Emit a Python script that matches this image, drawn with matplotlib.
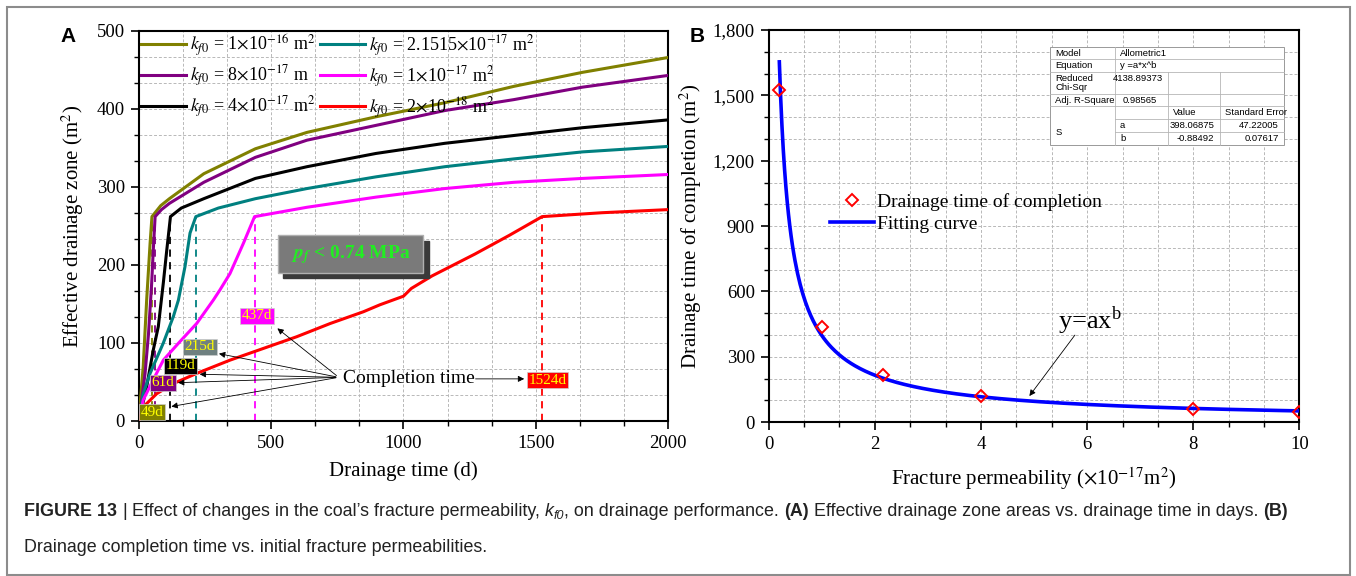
import matplotlib
matplotlib.use("Agg")
import matplotlib.pyplot as plt
import numpy as np
from matplotlib.patches import Rectangle
from matplotlib.ticker import MultipleLocator, FuncFormatter

plt.rcParams['font.family'] = ['Liberation Serif', 'DejaVu Serif']
plt.rcParams['mathtext.fontset'] = 'stix'

# ---- panel A: effective drainage zone vs drainage time ----
olive_d = [0, 3, 16, 29, 42, 49, 82, 115, 245, 440, 635, 896, 1156, 1417, 1677, 2000]
olive_v = [0, 17, 70, 155, 228, 262, 276, 285, 317, 349, 370, 390, 408, 429, 447, 466]

purple_d = [0, 3, 23, 36, 48, 54, 61, 85, 115, 245, 440, 635, 896, 1156, 1417, 1677, 2000]
purple_v = [0, 8, 61, 112, 177, 219, 262, 271, 279, 306, 338, 360, 379, 398, 412, 428, 443]

black_d = [0, 3, 29, 54, 73, 92, 105, 119, 160, 245, 440, 635, 896, 1156, 1417, 1677, 2000]
black_v = [0, 5, 44, 91, 121, 177, 219, 262, 273, 285, 311, 326, 343, 356, 366, 376, 386]

teal_d = [0, 16, 42, 92, 130, 149, 174, 193, 215, 300, 440, 635, 896, 1156, 1417, 1677, 2000]
teal_v = [0, 35, 61, 100, 134, 155, 198, 241, 262, 273, 285, 298, 313, 326, 336, 345, 352]

magenta_d = [0, 16, 54, 92, 150, 218, 281, 306, 344, 395, 437, 635, 896, 1156, 1417, 1677, 2000]
magenta_v = [0, 27, 53, 78, 100, 125, 155, 168, 189, 228, 262, 274, 287, 298, 306, 311, 316]

red_d = [0, 16, 67, 130, 218, 344, 470, 596, 723, 848, 911, 1000, 1030, 1108, 1270, 1400, 1524, 1750, 2000]
red_v = [0, 18, 35, 48, 61, 78, 93, 108, 125, 140, 149, 160, 170, 186, 214, 238, 262, 267, 271]

series_labels = [r"$k_{f0}$ = 1$\times$10$^{-16}$ m$^{2}$",
                 r"$k_{f0}$ = 8$\times$10$^{-17}$ m",
                 r"$k_{f0}$ = 4$\times$10$^{-17}$ m$^{2}$",
                 r"$k_{f0}$ = 2.1515$\times$10$^{-17}$ m$^{2}$",
                 r"$k_{f0}$ = 1$\times$10$^{-17}$ m$^{2}$",
                 r"$k_{f0}$ = 2$\times$10$^{-18}$ m$^{2}$"]
series_colors = ["#808000", "#800080", "#000000", "#008080", "#ff00ff", "#ff0000"]
completion_days = [49, 61, 119, 215, 437, 1524]
day_labels = ["49d", "61d", "119d", "215d", "437d", "1524d"]
label_pos = [(49, 11), (90, 49), (158, 71), (230, 95), (446, 135), (1545, 52)]
label_bg = ["#808000", "#800080", "#000000", "#6f8080", "#ff00ff", "#ff0000"]
arrow_tips = [(112, 18), (137, 49), (219, 60), (292, 87), (515, 121)]

# ---- panel B: completion time vs permeability ----
perm = [0.2, 1, 2.1515, 4, 8, 10]
comp_time = [1524, 437, 215, 119, 61, 49]
fit_a = 398.06875
fit_b = -0.88492

fig = plt.figure(figsize=(13.56, 5.76), dpi=100)
axA = fig.add_axes([0.1025, 0.2691, 0.3901, 0.6771])
axB = fig.add_axes([0.5669, 0.2670, 0.3914, 0.6809])

grid_kw = dict(color="#b8b8b8", linestyle=(0, (3, 2)), linewidth=0.7)

curves = [(olive_d, olive_v), (purple_d, purple_v), (black_d, black_v),
          (teal_d, teal_v), (magenta_d, magenta_v), (red_d, red_v)]
for (d, v), c, lab in zip(curves, series_colors, series_labels):
    axA.plot(d, v, color=c, lw=2.2, label=lab, zorder=3)
for (d, v), c, day in zip(curves, series_colors, completion_days):
    axA.plot([day, day], [0, np.interp(day, d, v)], color=c, lw=1.3, ls=(0, (4, 3)), zorder=2)

axA.set_xlim(0, 2000)
axA.set_ylim(0, 500)
axA.xaxis.set_major_locator(MultipleLocator(500))
axA.xaxis.set_minor_locator(MultipleLocator(500 / 3))
axA.yaxis.set_major_locator(MultipleLocator(100))
axA.yaxis.set_minor_locator(MultipleLocator(100 / 3))
axA.grid(which="both", **grid_kw)
axA.set_axisbelow(True)
axA.set_xlabel("Drainage time (d)", fontsize=15, labelpad=7)
axA.set_ylabel("Effective drainage zone (m$^2$)", fontsize=15, labelpad=8)

axA.legend(loc="upper left", ncol=2, frameon=False, fontsize=13, handlelength=2.5,
           handletextpad=0.2, columnspacing=0.3, labelspacing=0.3,
           borderaxespad=0.0, borderpad=0.1)

# pressure box with shadow
axA.add_patch(Rectangle((545, 183), 550, 48, color="#3a3a3a", zorder=4))
axA.add_patch(Rectangle((524, 190), 550, 48, facecolor="#7a7a7a", edgecolor="#b0b0b0", lw=1, zorder=5))
axA.text(799, 214, r"$\mathbfit{p}_{\mathbfit{f}}$ < 0.74 MPa", color="#22ee22", fontsize=14,
         fontweight="bold", ha="center", va="center", zorder=6)

for txt, (x, y), bg, in zip(day_labels, label_pos, label_bg):
    axA.text(x, y, txt, fontsize=11, color="#ffff00", ha="center", va="center", zorder=7,
             bbox=dict(boxstyle="square,pad=0.1", facecolor=bg, edgecolor="#cccccc", lw=0.5))

arrow_kw = dict(arrowstyle="-|>", color="k", lw=0.6, mutation_scale=9)
for tip in arrow_tips:
    axA.annotate("", xy=tip, xytext=(755, 56), arrowprops=arrow_kw, zorder=6)
axA.annotate("", xy=(1467, 54), xytext=(1262, 54), arrowprops=arrow_kw, zorder=6)
axA.text(770, 54, "Completion time", fontsize=14, ha="left", va="center", zorder=7)

# ---- panel B ----
xs = np.linspace(0.2, 10, 400)
axB.plot(xs, fit_a * xs ** fit_b, color="#0000ff", lw=2.6, label="Fitting curve", zorder=3)
axB.plot(perm, comp_time, ls="none", marker="D", ms=6.5, mfc="none", mec="#ff0000", mew=1.4,
         label="Drainage time of completion", zorder=4)
axB.set_xlim(0, 10)
axB.set_ylim(0, 1800)
axB.xaxis.set_major_locator(MultipleLocator(2))
axB.xaxis.set_minor_locator(MultipleLocator(2 / 3))
axB.yaxis.set_major_locator(MultipleLocator(300))
axB.yaxis.set_minor_locator(MultipleLocator(100))
axB.yaxis.set_major_formatter(FuncFormatter(lambda v, p: f"{v:,.0f}"))
axB.grid(which="both", **grid_kw)
axB.set_axisbelow(True)
axB.set_xlabel(r"Fracture permeability ($\times$10$^{-17}$m$^{2}$)", fontsize=15, labelpad=9)
axB.set_ylabel("Drainage time of completion (m$^2$)", fontsize=15, labelpad=6)

h, l = axB.get_legend_handles_labels()
axB.legend(h[::-1], l[::-1], loc="upper left", bbox_to_anchor=(0.115, 0.585), frameon=False,
           fontsize=14, handlelength=2.3, handletextpad=0.15, labelspacing=0.22,
           borderpad=0, borderaxespad=0)

axB.annotate("", xy=(4.88, 110), xytext=(5.8, 410),
             arrowprops=dict(arrowstyle="-|>", color="k", lw=0.6, mutation_scale=9))
axB.text(5.45, 430, r"y=ax$^{\mathregular{b}}$", fontsize=19, ha="left", va="baseline")

# fit result table
tx = [0.530, 0.652, 0.752, 0.850, 0.971]
ty = [0.956, 0.925, 0.894, 0.836, 0.805, 0.772, 0.739, 0.706]
tb = axB.transAxes
axB.add_patch(Rectangle((tx[0], ty[-1]), tx[-1] - tx[0], ty[0] - ty[-1], transform=tb,
                        facecolor="white", edgecolor="#999999", lw=0.7, zorder=5))
lc = dict(color="#b5b5b5", lw=0.6, transform=tb, zorder=6)
for yy in ty[1:5]:
    axB.plot([tx[0], tx[-1]], [yy, yy], **lc)
for yy in ty[5:7]:
    axB.plot([tx[1], tx[-1]], [yy, yy], **lc)
axB.plot([tx[1], tx[1]], [ty[-1], ty[0]], **lc)
for xx in tx[2:4]:
    axB.plot([xx, xx], [ty[-1], ty[2]], **lc)

tfont = dict(family="Liberation Sans", fontsize=6.8, transform=tb, zorder=7, va="center")
def ymid(i, j=None):
    return (ty[i] + ty[i + 1 if j is None else j]) / 2

axB.text(tx[0] + 0.01, ymid(0), "Model", **tfont)
axB.text(tx[1] + 0.01, ymid(0), "Allometric1", **tfont)
axB.text(tx[0] + 0.01, ymid(1), "Equation", **tfont)
axB.text(tx[1] + 0.01, ymid(1), "y =a*x^b", **tfont)
axB.text(tx[0] + 0.01, ymid(2), "Reduced\nChi-Sqr", linespacing=1.0, **tfont)
axB.text(tx[2] - 0.01, ymid(2) + 0.012, "4138.89373", ha="right", **tfont)
axB.text(tx[0] + 0.01, ymid(3), "Adj. R-Square", **tfont)
axB.text(tx[2] - 0.02, ymid(3), "0.98565", ha="right", **tfont)
axB.text(tx[2] + 0.01, ymid(4), "Value", **tfont)
axB.text(tx[3] + 0.01, ymid(4), "Standard Error", **tfont)
axB.text(tx[0] + 0.01, ymid(5, 7), "S", **tfont)
axB.text(tx[1] + 0.01, ymid(5), "a", **tfont)
axB.text(tx[1] + 0.01, ymid(6), "b", **tfont)
axB.text(tx[3] - 0.01, ymid(5), "398.06875", ha="right", **tfont)
axB.text(tx[3] - 0.01, ymid(6), "-0.88492", ha="right", **tfont)
axB.text(tx[4] - 0.01, ymid(5), "47.22005", ha="right", **tfont)
axB.text(tx[4] - 0.01, ymid(6), "0.07617", ha="right", **tfont)

for ax in (axA, axB):
    for sp in ax.spines.values():
        sp.set_linewidth(1.5)
    ax.tick_params(which="major", direction="out", length=6, width=1.2, labelsize=13.5, pad=4)
    ax.tick_params(which="minor", direction="out", length=3.5, width=1.0)

fig.text(68 / 1356, 1 - 36 / 576, "A", family="Liberation Sans", fontweight="bold", fontsize=15,
         ha="center", va="center")
fig.text(697 / 1356, 1 - 36 / 576, "B", family="Liberation Sans", fontweight="bold", fontsize=15,
         ha="center", va="center")

# caption written segment by segment
fig.canvas.draw()
renderer = fig.canvas.get_renderer()
cap_size = 12.9

def write_line(x_px, y_px, segments):
    x = x_px
    space = None
    for txt, weight, style, gap, dy, scale in segments:
        if gap:
            if space is None:
                t = fig.text(0, 0, "a a", fontsize=cap_size, family="Liberation Sans")
                t2 = fig.text(0, 0, "aa", fontsize=cap_size, family="Liberation Sans")
                space = t.get_window_extent(renderer).width - t2.get_window_extent(renderer).width
                t.remove()
                t2.remove()
            x += space
        t = fig.text(x / 1356, 1 - (y_px + dy) / 576, txt, fontsize=cap_size * scale,
                     fontweight=weight, fontstyle=style, family="Liberation Sans",
                     va="baseline", ha="left", color="#222222")
        x += t.get_window_extent(renderer).width

write_line(24, 516, [
    ("FIGURE 13", "bold", "normal", False, 0, 1),
    ("|", "normal", "normal", True, 0, 1),
    ("Effect of changes in the coal\u2019s fracture permeability,", "normal", "normal", True, 0, 1),
    ("k", "normal", "italic", True, 0, 1),
    ("f0", "normal", "italic", False, 3, 0.7),
    (", on drainage performance.", "normal", "normal", False, 0, 1),
    ("(A)", "bold", "normal", True, 0, 1),
    ("Effective drainage zone areas vs. drainage time in days.", "normal", "normal", True, 0, 1),
    ("(B)", "bold", "normal", True, 0, 1),
])
write_line(24, 552, [
    ("Drainage completion time vs. initial fracture permeabilities.", "normal", "normal", False, 0, 1),
])

fig.add_artist(Rectangle((7 / 1356, 1 / 576), 1343 / 1356, 568 / 576, transform=fig.transFigure,
                         fill=False, edgecolor="#8c8c8c", lw=1.5))

fig.savefig("out.png", dpi=100)
